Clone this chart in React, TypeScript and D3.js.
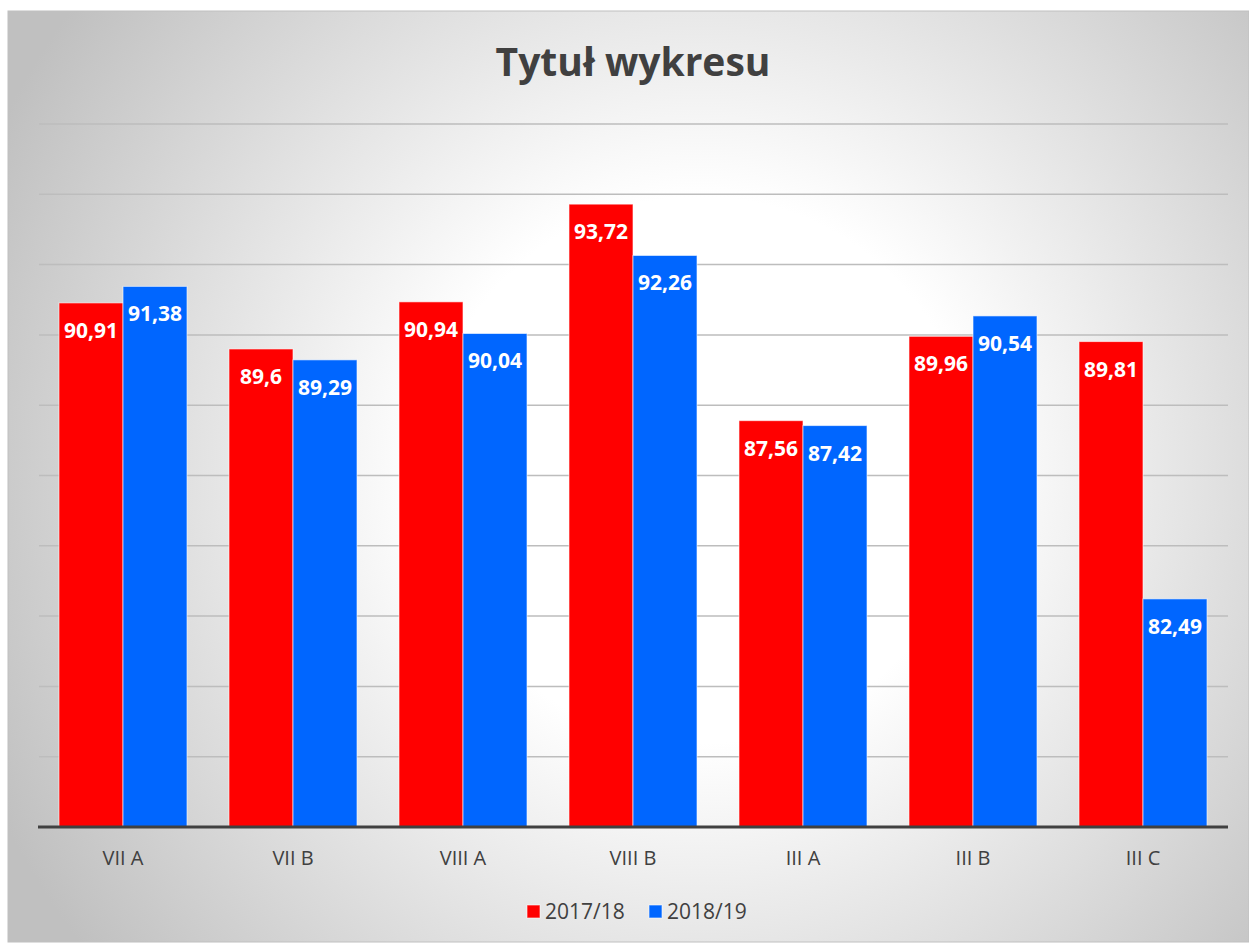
import React from 'react';
import * as d3 from 'd3';

const categories = ['VII A', 'VII B', 'VIII A', 'VIII B', 'III A', 'III B', 'III C'];
const seriesNames = ['2017/18', '2018/19'];
const values2017 = [90.91, 89.6, 90.94, 93.72, 87.56, 89.96, 89.81];
const values2018 = [91.38, 89.29, 90.04, 92.26, 87.42, 90.54, 82.49];
const seriesColors = ['#ff0000', '#0066ff'];
const yTicks = [76, 78, 80, 82, 84, 86, 88, 90, 92, 94, 96];

const W = 1249;
const H = 943;
const plot = { left: 38, right: 1228, top: 124, bottom: 827 };

const fmt = (v: number) => String(v).replace('.', ',');

export default function App() {
  const x = d3.scaleBand<string>()
    .domain(categories)
    .range([plot.left, plot.right])
    .paddingInner(0.247)
    .paddingOuter(0.1235);

  const xs = d3.scaleBand<string>()
    .domain(seriesNames)
    .range([0, x.bandwidth()]);

  const y = d3.scaleLinear().domain([76, 96]).range([plot.bottom, plot.top]);

  const series = [values2017, values2018];

  return (
    <svg width={W} height={H} style={{ position: 'absolute', left: 0, top: 0 }}>
      <defs>
        <radialGradient id="bg" gradientUnits="userSpaceOnUse" cx={700} cy={470} r={780}>
          <stop offset="0" stopColor="#ffffff" />
          <stop offset="0.35" stopColor="#ffffff" />
          <stop offset="1" stopColor="#c0c0c0" />
        </radialGradient>
      </defs>
      <rect x={8} y={11} width={W - 8} height={931} fill="url(#bg)" stroke="#c0c0c0" strokeWidth={1} />

      <text
        x={633}
        y={76}
        textAnchor="middle"
        fontFamily="'Open Sans', sans-serif"
        fontWeight="bold"
        fontSize={39}
        fill="#404040"
      >
        Tytuł wykresu
      </text>

      {yTicks.slice(1).map(t => (
        <line key={t} x1={plot.left + 1} x2={plot.right} y1={y(t)} y2={y(t)} stroke="#bdbdbd" strokeWidth={1.5} />
      ))}

      {categories.map((c, i) => (
        <g key={c}>
          {series.map((vals, s) => {
            const bx = (x(c) as number) + (xs(seriesNames[s]) as number);
            const bw = xs.bandwidth();
            const top = y(vals[i]);
            return (
              <g key={s}>
                <rect
                  x={bx}
                  y={top}
                  width={bw}
                  height={plot.bottom - top}
                  fill={seriesColors[s]}
                  stroke="rgba(255,255,255,0.6)"
                  strokeWidth={1}
                />
                <text
                  x={bx + bw / 2}
                  y={top + 35}
                  textAnchor="middle"
                  fontFamily="'Open Sans', sans-serif"
                  fontWeight="bold"
                  fontSize={21}
                  fill="#ffffff"
                >
                  {fmt(vals[i])}
                </text>
              </g>
            );
          })}
          <text
            x={(x(c) as number) + x.bandwidth() / 2}
            y={865}
            textAnchor="middle"
            fontFamily="'Open Sans', sans-serif"
            fontSize={20}
            fill="#404040"
          >
            {c}
          </text>
        </g>
      ))}

      <line x1={plot.left} x2={plot.right} y1={plot.bottom} y2={plot.bottom} stroke="#404040" strokeWidth={3} />

      {seriesNames.map((n, s) => {
        const lx = [527, 649][s];
        return (
          <g key={n}>
            <rect x={lx} y={905} width={13} height={13} fill={seriesColors[s]} stroke="rgba(255,255,255,0.6)" strokeWidth={1} />
            <text x={lx + 18} y={919} fontFamily="'Open Sans', sans-serif" fontSize={21} fill="#404040">
              {n}
            </text>
          </g>
        );
      })}
    </svg>
  );
}
